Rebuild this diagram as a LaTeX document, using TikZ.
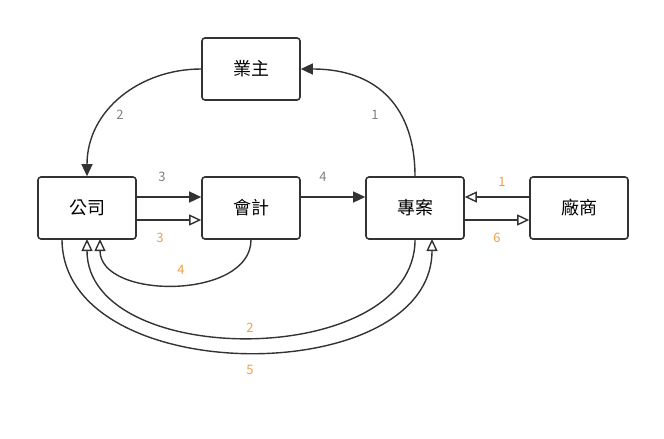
\documentclass[tikz,border=0pt]{standalone}
\usepackage{fontspec}
\setmainfont{Noto Sans CJK TC}
\usetikzlibrary{arrows.meta}
\definecolor{bd}{HTML}{333333}
\definecolor{og}{HTML}{F0A040}
\definecolor{gl}{HTML}{808080}
\begin{document}
\begin{tikzpicture}[x=1pt,y=-1pt,
 box/.style={draw=bd,line width=1.6pt,rounded corners=3pt,minimum width=98pt,minimum height=62pt,font=\fontsize{18}{20}\selectfont,fill=white},
 con/.style={draw=bd,line width=1.4pt},
 fa/.style={con,-{Triangle[length=12pt,width=11pt]}},
 oa/.style={con,-{Triangle[open,length=12pt,width=11pt,fill=white]}},
 gt/.style={text=gl,font=\fontsize{13}{14}\selectfont},
 ot/.style={text=og,font=\fontsize{13}{14}\selectfont}]
\useasboundingbox (0,0) rectangle (664,439);
\node[box] (yz) at (251,69) {業主};
\node[box] (gs) at (87,208) {公司};
\node[box] (kj) at (251,208) {會計};
\node[box] (za) at (415,208) {專案};
\node[box] (cs) at (579,208) {廠商};
\draw[fa] (za.north) .. controls (415,110) and (380,69) .. (yz.east);
\draw[fa] (yz.west) .. controls (140,69) and (87,110) .. (gs.north);
\draw[fa] ([yshift=11pt]gs.east) -- ([yshift=11pt]kj.west);
\draw[oa] ([yshift=-12pt]gs.east) -- ([yshift=-12pt]kj.west);
\draw[fa] ([yshift=11pt]kj.east) -- ([yshift=11pt]za.west);
\draw[oa] ([yshift=11pt]cs.west) -- ([yshift=11pt]za.east);
\draw[oa] ([yshift=-12pt]za.east) -- ([yshift=-12pt]cs.west);
\coordinate (gb1) at (100,239);
\draw[oa] (kj.south) .. controls (251,300) and (100,300) .. (gb1);
\coordinate (gb2) at (87,239);
\draw[oa] (za.south) .. controls (415,370) and (87,370) .. (gb2);
\coordinate (gb3) at (62,239);
\coordinate (zb3) at (432,239);
\draw[oa] (gb3) .. controls (62,390) and (432,390) .. (zb3);
\node[gt] (l1) at (375,115) {1};
\node[gt] (l2) at (120,115) {2};
\node[gt] (l3) at (162,177) {3};
\node[gt] (l4) at (323,177) {4};
\node[ot] (o1) at (502,182) {1};
\node[ot] (o3) at (160,238) {3};
\node[ot] (o6) at (497,238) {6};
\node[ot] (o4) at (181,270) {4};
\node[ot] (o2) at (250,328) {2};
\node[ot] (o5) at (250,370) {5};
\end{tikzpicture}
\end{document}
